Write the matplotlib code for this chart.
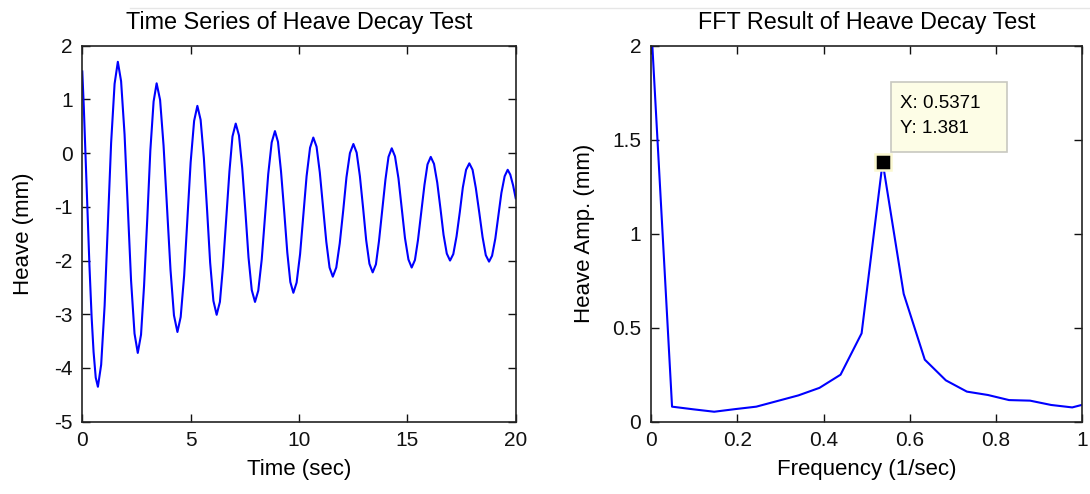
import matplotlib
matplotlib.use("Agg")
import matplotlib.pyplot as plt
from matplotlib.patches import Rectangle
from matplotlib.lines import Line2D
from matplotlib.ticker import FormatStrFormatter

plt.rcParams['font.family'] = ['Liberation Sans', 'DejaVu Sans']
plt.rcParams['axes.unicode_minus'] = False

# ---- time series ----
time_sec = [0.00, 0.07, 0.14, 0.23, 0.33, 0.43, 0.52, 0.62, 0.72,
            0.87, 1.03, 1.18, 1.33, 1.49, 1.64,
            1.79, 1.95, 2.10, 2.25, 2.41, 2.56,
            2.71, 2.85, 3.00, 3.14, 3.29, 3.43,
            3.59, 3.75, 3.91, 4.07, 4.23, 4.39,
            4.54, 4.70, 4.85, 5.00, 5.16, 5.31,
            5.46, 5.61, 5.76, 5.90, 6.05, 6.20,
            6.35, 6.49, 6.64, 6.79, 6.93, 7.08,
            7.23, 7.38, 7.53, 7.67, 7.82, 7.97,
            8.12, 8.28, 8.43, 8.58, 8.74, 8.89,
            9.03, 9.17, 9.32, 9.46, 9.60, 9.74,
            9.89, 10.05, 10.20, 10.35, 10.51, 10.66,
            10.81, 10.96, 11.11, 11.26, 11.41, 11.56,
            11.72, 11.88, 12.04, 12.19, 12.35, 12.51,
            12.66, 12.81, 12.96, 13.10, 13.25, 13.40,
            13.55, 13.69, 13.84, 13.99, 14.13, 14.28,
            14.43, 14.59, 14.74, 14.89, 15.05, 15.20,
            15.35, 15.49, 15.64, 15.79, 15.93, 16.08,
            16.23, 16.38, 16.53, 16.67, 16.82, 16.97,
            17.12, 17.27, 17.42, 17.56, 17.71, 17.86,
            18.01, 18.16, 18.32, 18.47, 18.62, 18.77,
            18.91, 19.06, 19.20, 19.34, 19.49, 19.63,
            19.75, 19.88, 20.00]
heave_mm = [1.52, 0.85, 0.05, -1.00, -2.10, -3.05, -3.70, -4.18, -4.35,
            -3.94, -2.84, -1.33, 0.19, 1.29, 1.70,
            1.34, 0.35, -1.01, -2.37, -3.36, -3.72,
            -3.38, -2.47, -1.21, 0.05, 0.96, 1.30,
            0.99, 0.14, -1.02, -2.17, -3.02, -3.33,
            -3.05, -2.28, -1.23, -0.17, 0.60, 0.88,
            0.62, -0.09, -1.07, -2.04, -2.75, -3.01,
            -2.77, -2.12, -1.23, -0.34, 0.31, 0.55,
            0.33, -0.28, -1.11, -1.94, -2.55, -2.77,
            -2.56, -1.98, -1.18, -0.39, 0.20, 0.41,
            0.21, -0.34, -1.10, -1.85, -2.40, -2.60,
            -2.41, -1.88, -1.16, -0.43, 0.10, 0.29,
            0.12, -0.36, -1.01, -1.65, -2.13, -2.30,
            -2.13, -1.68, -1.07, -0.45, 0.00, 0.17,
            0.01, -0.43, -1.03, -1.62, -2.06, -2.22,
            -2.07, -1.64, -1.07, -0.49, -0.07, 0.09,
            -0.06, -0.47, -1.02, -1.58, -1.98, -2.13,
            -1.99, -1.62, -1.10, -0.59, -0.21, -0.07,
            -0.20, -0.55, -1.04, -1.52, -1.87, -2.00,
            -1.88, -1.55, -1.10, -0.64, -0.31, -0.19,
            -0.31, -0.65, -1.11, -1.56, -1.90, -2.02,
            -1.91, -1.59, -1.17, -0.74, -0.43, -0.31,
            -0.40, -0.60, -0.84]

# ---- FFT result ----
freq = [0.0, 0.0488, 0.0977, 0.1465, 0.1953, 0.2441, 0.2930, 0.3418, 0.3906,
        0.4395, 0.4883, 0.5371, 0.5859, 0.6348, 0.6836, 0.7324, 0.7813,
        0.8301, 0.8789, 0.9277, 0.9766, 1.0254]
amp_mm = [2.13, 0.08, 0.066, 0.053, 0.067, 0.08, 0.11, 0.14, 0.18,
          0.25, 0.47, 1.381, 0.68, 0.33, 0.22, 0.16, 0.142,
          0.115, 0.112, 0.089, 0.076, 0.105]
peak_f = 0.5371
peak_a = 1.381

left_xticks = [0, 5, 10, 15, 20]
left_yticks = [-5, -4, -3, -2, -1, 0, 1, 2]
right_xticks = [0, 0.2, 0.4, 0.6, 0.8, 1]
right_yticks = [0, 0.5, 1, 1.5, 2]

W, H = 1090, 494
fig = plt.figure(figsize=(W / 100, H / 100), dpi=100)
fig.patch.set_facecolor('white')

ax1 = fig.add_axes([82.3 / W, 1 - 421.7 / H, 433.4 / W, 376 / H])
ax2 = fig.add_axes([651 / W, 1 - 421.7 / H, 431.3 / W, 376 / H])

blue = '#0000ff'
ax1.plot(time_sec, heave_mm, color=blue, lw=1.5, solid_joinstyle='round')
ax2.plot(freq, amp_mm, color=blue, lw=1.5, solid_joinstyle='round')

ax1.set_xlim(0, 20)
ax1.set_ylim(-5, 2)
ax2.set_xlim(0, 1)
ax2.set_ylim(0, 2)
ax1.set_xticks(left_xticks)
ax1.set_yticks(left_yticks)
ax2.set_xticks(right_xticks)
ax2.set_yticks(right_yticks)
for ax in (ax1, ax2):
    ax.xaxis.set_major_formatter(FormatStrFormatter('%g'))
    ax.yaxis.set_major_formatter(FormatStrFormatter('%g'))
    ax.tick_params(direction='in', top=True, right=True, length=5.5, width=1.0,
                   labelsize=15, pad=7, colors='#111111')
    for s in ax.spines.values():
        s.set_linewidth(1.2)
        s.set_color('#222222')

ax1.set_title('Time Series of Heave Decay Test', fontsize=16.8, pad=12)
ax2.set_title('FFT Result of Heave Decay Test', fontsize=16.8, pad=12)
ax1.set_xlabel('Time (sec)', fontsize=16)
ax1.set_ylabel('Heave (mm)', fontsize=16)
ax2.set_xlabel('Frequency (1/sec)', fontsize=16)
ax2.set_ylabel('Heave Amp. (mm)', fontsize=16)
ax1.xaxis.set_label_coords(0.5, -0.10)
ax2.xaxis.set_label_coords(0.5, -0.10)
ax1.yaxis.set_label_coords(-0.111, 0.5)
ax2.yaxis.set_label_coords(-0.13, 0.5)

# data tip
ax2.plot([peak_f], [peak_a], marker='s', ms=11, color='black',
         markeredgecolor='#fbf8d0', mew=1.8, clip_on=False, zorder=5)
box = Rectangle((0.5558, 1.436), 0.8262 - 0.5558, 1.805 - 1.436,
                facecolor='#fdfde6', edgecolor='#c8c8c0', lw=1.2, zorder=4,
                clip_on=False)
ax2.add_patch(box)
ax2.text(0.5773, 1.667, 'X: %.4f' % peak_f, fontsize=13.5, va='baseline',
         ha='left', zorder=6)
ax2.text(0.5773, 1.536, 'Y: %.3f' % peak_a, fontsize=13.5, va='baseline',
         ha='left', zorder=6)

# faint screenshot line at top
fig.add_artist(Line2D([130 / W, 1.0], [1 - 8 / H, 1 - 8 / H], color='#e6e6e6', lw=1))

fig.savefig('out.png', dpi=100)
